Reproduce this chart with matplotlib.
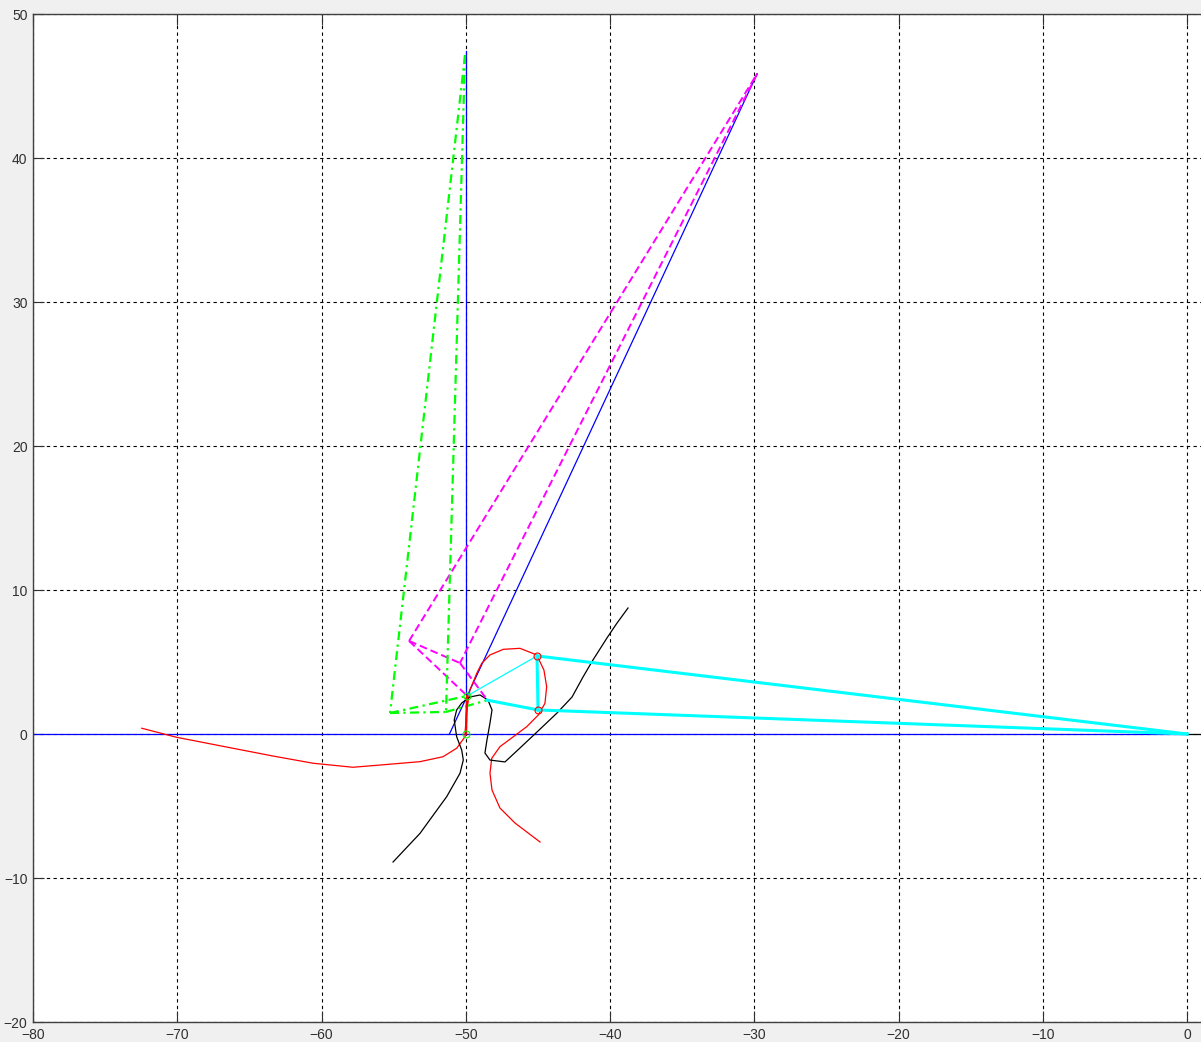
import numpy as np
import matplotlib.pyplot as plt

# ключевые точки механизма
A = (-49.9, 2.65)
B = (-48.5, 2.35)
O1 = (-50.0, 0.0)
C1 = (-45.06, 5.42)
C2 = (-44.99, 1.67)
O2 = (0.0, 0.0)

# многоугольник скоростей (пунктир)
M1 = (-53.93, 6.46)
M2 = (-29.8, 45.85)
M3 = (-50.4, 4.93)

# многоугольник ускорений (штрих-пунктир)
G0 = (-50.05, 47.15)
G1 = (-55.25, 1.46)
G2 = (-51.37, 1.53)

# траектория точки шатуна (красная)
red_x = [-72.46, -70.04, -66.14, -63.36, -60.59, -57.82, -55.04, -53.17, -51.58,
         -50.63, -50.05, -49.95, -49.71, -49.24, -48.89, -48.32, -47.40, -46.24,
         -45.08, -44.58, -44.39, -44.51, -44.97, -45.77, -46.70, -47.63, -48.20,
         -48.32, -48.18, -47.63, -46.59, -44.85]
red_y = [0.40, -0.23, -0.99, -1.53, -2.03, -2.31, -2.08, -1.92, -1.58,
         -0.99, -0.19, 1.50, 3.06, 4.21, 4.91, 5.49, 5.88, 5.95,
         5.49, 4.44, 3.28, 2.13, 1.32, 0.51, -0.19, -0.88, -1.69,
         -2.73, -3.89, -5.14, -6.18, -7.50]

# траектория второй точки (чёрная)
blk_x = [-55.04, -53.17, -52.25, -51.32, -50.40, -50.17, -50.28, -50.63, -50.80,
         -50.63, -50.28, -49.71, -49.01, -48.46, -48.18, -48.32, -48.53, -48.67,
         -48.32, -47.28, -46.24, -45.06, -43.67, -42.63, -41.87, -41.18, -40.21,
         -39.51, -38.75]
blk_y = [-8.89, -6.90, -5.63, -4.35, -2.73, -1.81, -1.11, -0.19, 0.97,
         1.67, 2.15, 2.57, 2.71, 2.36, 1.67, 0.76, -0.42, -1.32,
         -1.81, -1.94, -0.97, 0.14, 1.46, 2.57, 3.96, 5.14, 6.67,
         7.71, 8.75]

fig = plt.figure(figsize=(12.01, 10.42), dpi=100, facecolor='#f0f0f0')
ax = fig.add_axes([33 / 1201, 20 / 1042, 90 * 14.425 / 1201, 1008 / 1042])
ax.set_xlim(-80, 10)
ax.set_ylim(-20, 50)
ax.set_xticks(np.arange(-80, 1, 10))
ax.set_yticks(np.arange(-20, 51, 10))

ax.grid(True, color='black', linestyle=(0, (3, 3)), linewidth=0.8)
ax.set_axisbelow(True)
ax.tick_params(direction='in', length=8, width=0.8, top=True, right=True,
               labelsize=10, colors='#303030', pad=4)
for lbl in ax.get_xticklabels() + ax.get_yticklabels():
    lbl.set_fontfamily('Liberation Sans')
for s in ax.spines.values():
    s.set_color('#404040')
    s.set_linewidth(1.0)


def seg(p, q, **kw):
    ax.plot([p[0], q[0]], [p[1], q[1]], **kw)


# оси и стойка
seg((-80, 0), (0, 0), color='blue', lw=0.9)
seg((0, 0), (10, 0), color='black', lw=0.9)
seg(O1, (-50.0, 47.4), color='blue', lw=0.9)
seg((-51.13, 0.0), M2, color='blue', lw=0.9)

# траектории
ax.plot(red_x, red_y, color='red', lw=0.9)
ax.plot(blk_x, blk_y, color='black', lw=0.9)

# многоугольник скоростей
dash = dict(color='magenta', lw=1.4, linestyle=(0, (4, 2)))
seg(M1, M2, **dash)
seg(M2, M3, **dash)
seg(M1, A, **dash)
seg(M1, M3, **dash)
seg(M3, B, **dash)

# многоугольник ускорений
dd = dict(color='#00ff00', lw=1.6, linestyle=(0, (4, 2, 1, 2)))
seg(G0, G1, **dd)
seg(G0, G2, **dd)
seg(G1, G2, **dd)
seg(G1, A, **dd)
seg(G2, B, **dd)

# звенья механизма
seg(A, C1, color='cyan', lw=0.9)
seg(B, C2, color='cyan', lw=2.2)
seg(C1, C2, color='cyan', lw=2.2)
seg(C1, O2, color='cyan', lw=2.2)
seg(C2, O2, color='cyan', lw=2.2)
seg(O1, A, color='red', lw=1.6)

# шарниры
ax.plot([O1[0], A[0]], [O1[1], A[1]], 'o', ms=5, mfc='none', mec='#00ff00', mew=0.8)
ax.plot([C1[0], C2[0]], [C1[1], C2[1]], 'o', ms=5, mfc='none', mec='red', mew=0.8)

fig.savefig('out.png', dpi=100, facecolor=fig.get_facecolor())
